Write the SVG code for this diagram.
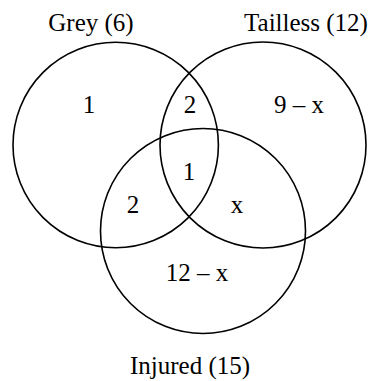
<svg xmlns="http://www.w3.org/2000/svg" width="373" height="381" viewBox="0 0 373 381">
<style>
.c{fill:none;stroke:#000;stroke-width:1.6}
text{font-family:"Liberation Serif","Times New Roman",serif;font-size:25px;fill:#000;text-anchor:middle}
</style>
<rect width="373" height="381" fill="#fff"/>
<g id="grey"><circle class="c" cx="115.7" cy="145" r="102.7"/><text x="91" y="31">Grey (6)</text></g>
<g id="tailless"><circle class="c" cx="263" cy="145" r="103"/><text x="306" y="31">Tailless (12)</text></g>
<g id="injured"><circle class="c" cx="203" cy="231" r="102.5"/><text x="190" y="374">Injured (15)</text></g>
<g id="regions">
<text x="89" y="113">1</text>
<text x="190" y="113">2</text>
<text x="299" y="113">9 – x</text>
<text x="189" y="180">1</text>
<text x="133" y="213">2</text>
<text x="237" y="213">x</text>
<text x="197" y="281">12 – x</text>
</g>
</svg>
